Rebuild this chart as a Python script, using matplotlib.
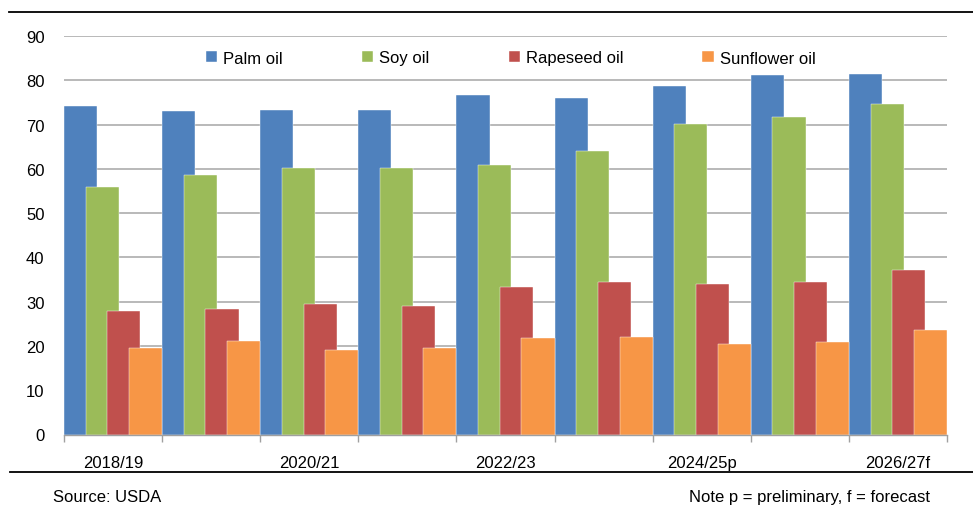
import numpy as np
import matplotlib.pyplot as plt
from matplotlib.lines import Line2D

plt.rcParams['font.family'] = ['Liberation Sans', 'DejaVu Sans']

# Marketing years
years = ['2018/19', '2019/20', '2020/21', '2021/22', '2022/23',
         '2023/24', '2024/25p', '2025/26', '2026/27f']

# Production, million tonnes
palm = [74.2, 73.0, 73.3, 73.2, 76.7, 76.1, 78.8, 81.2, 81.4]
soy = [56.0, 58.5, 60.1, 60.1, 60.8, 64.0, 70.1, 71.7, 74.7]
rapeseed = [27.8, 28.3, 29.5, 29.1, 33.2, 34.4, 34.0, 34.5, 37.2]
sunflower = [19.6, 21.1, 19.0, 19.6, 21.7, 22.1, 20.4, 20.9, 23.5]

series = [('Palm oil', palm, '#4F81BD'),
          ('Soy oil', soy, '#9BBB59'),
          ('Rapeseed oil', rapeseed, '#C0504D'),
          ('Sunflower oil', sunflower, '#F79646')]

fig = plt.figure(figsize=(9.73, 5.10), dpi=100)
ax = fig.add_axes([64 / 973, 1 - 435.5 / 510, (947 - 64) / 973, (435.5 - 37) / 510])

x = np.arange(len(years))
bar_w = 0.337
step = 0.221
handles = []
for k, (name, vals, col) in enumerate(series):
    b = ax.bar(x + k * step, vals, width=bar_w, align='edge', color=col,
               edgecolor='white', linewidth=0.3, label=name, zorder=2 + k)
    handles.append(b)

ax.set_xlim(0, len(years))
ax.set_ylim(0, 90)
ax.set_yticks(range(0, 91, 10))
ax.yaxis.grid(True, color='#a6a6a6', linewidth=1.1, zorder=0)
ax.set_axisbelow(True)

# ticks at group boundaries, labels on every other group centre
ax.set_xticks(range(len(years) + 1))
ax.set_xticklabels([])
ax.set_xticks(x + 0.5, minor=True)
ax.set_xticklabels([y if i % 2 == 0 else '' for i, y in enumerate(years)], minor=True)
ax.tick_params(axis='x', which='major', length=5, color='#a0a0a0', width=1)
ax.tick_params(axis='x', which='minor', length=0, pad=15, labelsize=12)
ax.tick_params(axis='y', length=0, pad=14, labelsize=12)

for s in ['top', 'right', 'left']:
    ax.spines[s].set_visible(False)
ax.spines['bottom'].set_color('#a0a0a0')
ax.spines['bottom'].set_linewidth(1)
ax.spines['bottom'].set_zorder(10)

leg = fig.legend(handles=handles, loc='center left', bbox_to_anchor=(206 / 973, 1 - 59 / 510),
                 ncol=4, frameon=False, fontsize=12, handlelength=0.68, handleheight=0.68,
                 handletextpad=0.35, columnspacing=4.75, borderpad=0, borderaxespad=0)

# horizontal rules
fig.add_artist(Line2D([9 / 973, 1], [1 - 13 / 510] * 2, color='black', linewidth=1.3))
fig.add_artist(Line2D([10 / 973, 1], [1 - 473 / 510] * 2, color='black', linewidth=1.3))

fig.text(53 / 973, 1 - 498 / 510, 'Source: USDA', fontsize=12, va='center', ha='left')
fig.text(930 / 973, 1 - 498 / 510, 'Note p = preliminary, f = forecast', fontsize=12,
         va='center', ha='right')

fig.savefig('out.png', dpi=100)
